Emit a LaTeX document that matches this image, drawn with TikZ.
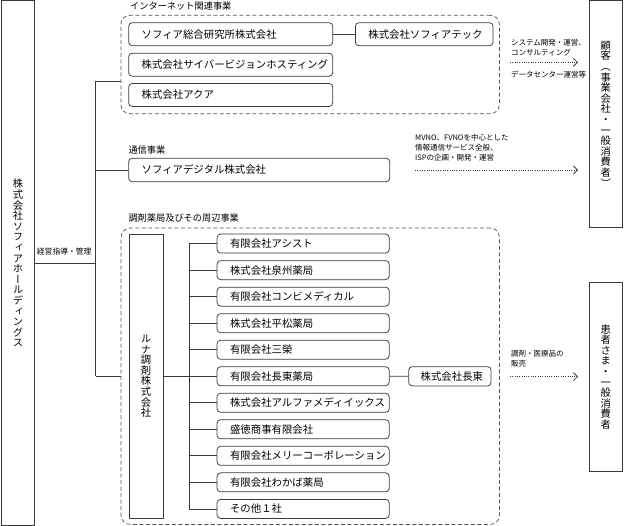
\documentclass[tikz,border=0pt]{standalone}
\usepackage{fontspec}
\setmainfont{Noto Sans CJK JP}
\newfontfamily\vjp[RawFeature=+vert]{Noto Sans CJK JP}
\usetikzlibrary{arrows.meta}
\definecolor{lc}{HTML}{3A3A3A}
\definecolor{dc}{HTML}{555555}
\definecolor{ac}{HTML}{3C3C3C}
\begin{document}
\begin{tikzpicture}[x=1pt,y=-1pt,
  ln/.style={draw=lc, line width=0.75pt},
  bx/.style={draw=lc, line width=0.75pt, rounded corners=3.5pt, anchor=west, inner xsep=13pt, inner ysep=0pt, align=left, font=\fontsize{10.4}{12}\selectfont},
  grp/.style={draw=dc, line width=0.75pt, dash pattern=on 4pt off 2.5pt, rounded corners=9pt, anchor=north west, inner sep=0pt},
  vbox/.style={draw=lc, line width=0.75pt, anchor=north west, inner sep=0pt, align=center, font=\vjp\fontsize{10.3}{10.6}\selectfont},
  lbl/.style={anchor=west, inner sep=0pt, font=\fontsize{9.2}{11}\selectfont},
  note/.style={anchor=west, inner sep=0pt, align=left, font=\fontsize{7.5}{9.8}\selectfont},
  dar/.style={draw=ac, line width=0.75pt, dash pattern=on 1pt off 1.3pt, -{Straight Barb[length=4pt,width=8pt,line width=0.8pt]}}
]
\useasboundingbox (0,0) rectangle (624,526);

% holding company
\node[vbox, minimum width=33.3pt, minimum height=524.5pt] (hold) at (1,0.5)
  {株\\式\\会\\社\\ソ\\フ\\ィ\\ア\\ホ\\ー\\ル\\デ\\ィ\\ン\\グ\\ス};
\node[note, font=\fontsize{7.8}{9}\selectfont] (mgmt) at (36.7,251.7) {経営指導・管理};

% customers
\node[vbox, minimum width=32.4pt, minimum height=226.5pt] (cust) at (589.3,0.5)
  {顧\\客\\（\\事\\業\\会\\社\\・\\一\\般\\消\\費\\者\\）};
\node[vbox, minimum width=32.4pt, minimum height=189pt] (pat) at (589.3,282)
  {患\\者\\さ\\ま\\・\\一\\般\\消\\費\\者};

% internet group
\node[lbl] (linet) at (130,6.5) {インターネット関連事業};
\node[grp, minimum width=378.5pt, minimum height=98.3pt] (inet) at (120.5,15) {};
\node[bx, text width=178pt, minimum height=23pt] (sr) at (128.3,34.2) {ソフィア総合研究所株式会社};
\node[bx, text width=111.7pt, minimum height=23pt] (tech) at (355,34.2) {株式会社ソフィアテック};
\node[bx, text width=178pt, minimum height=23pt] (cv) at (128.3,64.7) {株式会社サイバービジョンホスティング};
\node[bx, text width=178pt, minimum height=23pt] (aqua) at (128.3,95) {株式会社アクア};
\draw[ln] (sr.east) -- (tech.west);

% communication
\node[lbl] (lcom) at (128.3,150) {通信事業};
\node[bx, text width=235pt, minimum height=23.4pt] (dig) at (128.3,170) {ソフィアデジタル株式会社};

% pharmacy group
\node[lbl] (lph) at (128.3,218) {調剤薬局及びその周辺事業};
\node[grp, minimum width=378.3pt, minimum height=296.3pt] (ph) at (120.7,227.7) {};
\node[vbox, minimum width=33.7pt, minimum height=283.7pt] (luna) at (128.8,234)
  {ル\\ナ\\調\\剤\\株\\式\\会\\社};
\foreach \i/\t in {0/有限会社アシスト, 1/株式会社泉州薬局, 2/有限会社コンビメディカル, 3/株式会社平松薬局, 4/有限会社三榮, 5/有限会社長東薬局, 6/株式会社アルファメディイックス, 7/盛徳商事有限会社, 8/有限会社メリーコーポレーション, 9/有限会社わかば薬局, 10/その他１社}
  \node[bx, text width=146.1pt, minimum height=19pt] (c\i) at (216.7,{243.6+26.53*\i}) {\t};
\node[bx, inner xsep=12pt, text width=58.4pt, minimum height=19.3pt] (cho) at (408.3,376.3) {株式会社長東};
\draw[ln] (c5.east) -- (cho.west);

% trunk and branches
\coordinate (tTop) at (95.7,81);
\coordinate (tBot) at (95.7,376.2);
\coordinate (tMid) at (95.7,263.3);
\draw[ln] (tTop) -- (tBot);
\draw[ln] (hold.east |- tMid) -- (tMid);
\draw[ln] (tTop) -- (tTop -| inet.west);
\draw[ln] (dig.west) -- (dig.west -| tTop);
\draw[ln] (tBot) -- (tBot -| ph.west);

\coordinate (bTop) at (189.3,243.6);
\coordinate (bBot) at (189.3,508.9);
\draw[ln] (bTop) -- (bBot);
\foreach \i in {0,1,2,3,4,6,7,8,9,10} \draw[ln] (c\i.west) -- (c\i.west -| bTop);
\draw[ln] (luna.east |- c5.west) -- (c5.west);

% arrows and notes
\node[note] (n1) at (511,47.8) {システム開発・運営、\\コンサルティング};
\node[note] (n2) at (511,74.5) {データセンター運営等};
\coordinate (a1s) at (510,62.3); \coordinate (a1e) at (578,62.3);
\draw[dar] (a1s) -- (a1e);

\node[note, font=\fontsize{7.5}{10}\selectfont] (n3) at (415,147.5) {MVNO、FVNOを中心とした\\情報通信サービス全般、\\ISPの企画・開発・運営};
\coordinate (a2s) at (415,170); \coordinate (a2e) at (578,170);
\draw[dar] (a2s) -- (a2e);

\node[note] (n4) at (511,358.8) {調剤・医療品の\\販売};
\coordinate (a3s) at (510,376.7); \coordinate (a3e) at (578,376.7);
\draw[dar] (a3s) -- (a3e);
\end{tikzpicture}
\end{document}
